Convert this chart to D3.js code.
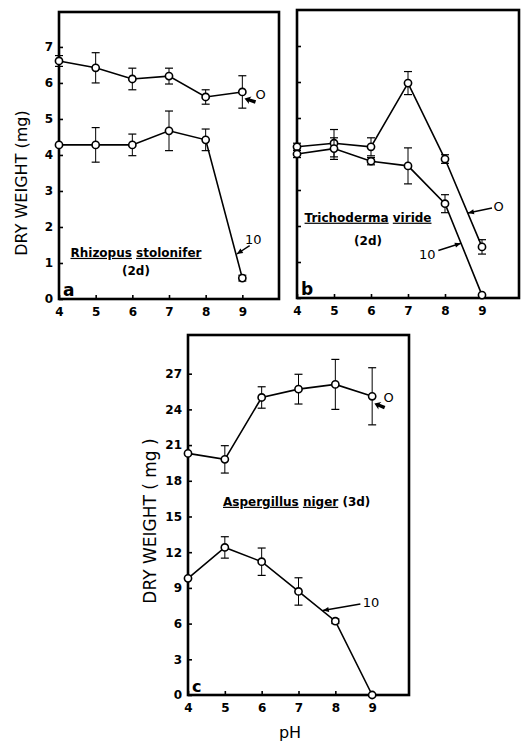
<!DOCTYPE html>
<html>
<head>
<meta charset="utf-8">
<script src="https://cdn.jsdelivr.net/npm/d3@7"></script>
<style>
  body { margin: 0; background: #fff; }
  svg { display: block; }
</style>
</head>
<body>
<script>
// pH values shared by all three panels
const pH = [4, 5, 6, 7, 8, 9];

// (a) Rhizopus stolonifer, 2d
const rhizopus0 = [6.61, 6.42, 6.11, 6.19, 5.61, 5.75];
const rhizopus0Err = [0.15, 0.42, 0.3, 0.22, 0.2, 0.45];
const rhizopus10 = [4.28, 4.28, 4.28, 4.67, 4.42, 0.58];
const rhizopus10Err = [0, 0.48, 0.3, 0.55, 0.3, 0.08];

// (b) Trichoderma viride, 2d
const tricho0 = [4.2, 4.3, 4.2, 5.97, 3.86, 1.42];
const tricho0Err = [0.1, 0.38, 0.25, 0.32, 0.12, 0.2];
const tricho10 = [4.0, 4.15, 3.8, 3.67, 2.62, 0.08];
const tricho10Err = [0.1, 0.3, 0.1, 0.5, 0.25, 0];

// (c) Aspergillus niger, 3d
const asper0 = [20.3, 19.8, 25.0, 25.7, 26.1, 25.1];
const asper0Err = [0, 1.15, 0.9, 1.25, 2.1, 2.4];
const asper10 = [9.8, 12.4, 11.2, 8.7, 6.2, 0];
const asper10Err = [0, 0.9, 1.15, 1.15, 0.2, 0];

const yTicksAB = [0, 1, 2, 3, 4, 5, 6, 7];
const yTicksC = [0, 3, 6, 9, 12, 15, 18, 21, 24, 27];

const width = 521, height = 741;
const svg = d3.select("body").append("svg")
    .attr("width", width)
    .attr("height", height)
    .style("background", "#fff");

const tickFont = "'DejaVu Sans', sans-serif";

function rows(vals, errs) {
    return pH.map((p, i) => ({ x: p, y: vals[i], e: errs[i] }));
}

// fat filled arrow, tip at (tx, ty), tail at (sx, sy)
function fatArrow(g, sx, sy, tx, ty) {
    const ang = Math.atan2(ty - sy, tx - sx) * 180 / Math.PI;
    const len = Math.hypot(tx - sx, ty - sy);
    g.append("path")
        .attr("transform", `translate(${tx},${ty}) rotate(${ang})`)
        .attr("d", `M0,0 L-6,-4 L-5,-1.6 L${-len},-1.8 L${-len},1.8 L-5,1.6 L-6,4 Z`)
        .attr("fill", "#000");
}

function thinArrow(g, sx, sy, tx, ty) {
    g.append("line")
        .attr("x1", sx).attr("y1", sy).attr("x2", tx).attr("y2", ty)
        .attr("stroke", "#000").attr("stroke-width", 1.4);
    const ang = Math.atan2(ty - sy, tx - sx) * 180 / Math.PI;
    g.append("path")
        .attr("transform", `translate(${tx},${ty}) rotate(${ang})`)
        .attr("d", "M0,0 L-6,-2.6 L-6,2.6 Z")
        .attr("fill", "#000");
}

function drawPanel(p) {
    const x = d3.scaleLinear().domain([4, 10]).range([p.left, p.right]);
    const y = d3.scaleLinear().domain(p.yDomain).range([p.bottom, p.top]);
    const g = svg.append("g");

    // x axis, ticks point inward
    const xa = g.append("g")
        .attr("transform", `translate(0,${p.bottom})`)
        .call(d3.axisBottom(x).tickValues(pH).tickFormat(d3.format("d"))
            .tickSizeInner(-4).tickSizeOuter(0).tickPadding(8));
    xa.select(".domain").remove();
    xa.selectAll("line").attr("stroke-width", 1.6);
    xa.selectAll("text")
        .attr("font-family", tickFont)
        .attr("font-weight", "bold")
        .attr("font-size", 12);

    const ya = g.append("g")
        .attr("transform", `translate(${p.left},0)`)
        .call(d3.axisLeft(y).tickValues(p.yTicks).tickSizeInner(-4).tickSizeOuter(0).tickPadding(6)
            .tickFormat(p.yLabels ? d3.format("d") : () => ""));
    ya.select(".domain").remove();
    ya.selectAll("line").attr("stroke-width", 1.6);
    ya.selectAll("text")
        .attr("font-family", tickFont)
        .attr("font-weight", "bold")
        .attr("font-size", 12);

    // frame
    g.append("rect")
        .attr("x", p.left).attr("y", p.top)
        .attr("width", p.right - p.left).attr("height", p.bottom - p.top)
        .attr("fill", "none").attr("stroke", "#000").attr("stroke-width", 2.6);

    const line = d3.line().x(d => x(d.x)).y(d => y(d.y));

    p.series.forEach(s => {
        const data = rows(s.vals, s.errs);
        g.append("path").datum(data)
            .attr("d", line)
            .attr("fill", "none").attr("stroke", "#000").attr("stroke-width", 1.6);

        const eb = g.selectAll(null).data(data.filter(d => d.e > 0)).enter().append("g");
        eb.append("line")
            .attr("x1", d => x(d.x)).attr("x2", d => x(d.x))
            .attr("y1", d => y(d.y - d.e)).attr("y2", d => y(d.y + d.e))
            .attr("stroke", "#000").attr("stroke-width", 1);
        [-1, 1].forEach(sgn => {
            eb.append("line")
                .attr("x1", d => x(d.x) - 4).attr("x2", d => x(d.x) + 4)
                .attr("y1", d => y(d.y + sgn * d.e)).attr("y2", d => y(d.y + sgn * d.e))
                .attr("stroke", "#000").attr("stroke-width", 1.2);
        });

        g.selectAll(null).data(data).enter().append("circle")
            .attr("cx", d => x(d.x)).attr("cy", d => y(d.y))
            .attr("r", 3.6)
            .attr("fill", "#fff").attr("stroke", "#000").attr("stroke-width", 1.6);
    });

    // species label with underlined words
    const t = g.append("text")
        .attr("x", x(p.nameAt[0])).attr("y", y(p.nameAt[1]))
        .attr("text-anchor", "middle")
        .attr("font-family", tickFont)
        .attr("font-weight", "bold")
        .attr("font-size", p.nameSize);
    p.name.forEach((w, i) => {
        if (i > 0) t.append("tspan").text(" ");
        t.append("tspan").text(w.text)
            .attr("text-decoration", w.u ? "underline" : null);
    });
    if (p.sub) {
        g.append("text")
            .attr("x", x(p.subAt[0])).attr("y", y(p.subAt[1]))
            .attr("text-anchor", "middle")
            .attr("font-family", tickFont)
            .attr("font-weight", "bold")
            .attr("font-size", p.nameSize)
            .text(p.sub);
    }

    // panel letter
    g.append("text")
        .attr("x", p.left + 4).attr("y", p.bottom - 3)
        .attr("font-family", tickFont)
        .attr("font-weight", "bold")
        .attr("font-size", p.letterSize)
        .text(p.letter);

    // concentration labels
    p.notes.forEach(n => {
        if (n.fat) fatArrow(g, x(n.from[0]), y(n.from[1]), x(n.to[0]), y(n.to[1]));
        else thinArrow(g, x(n.from[0]), y(n.from[1]), x(n.to[0]), y(n.to[1]));
        g.append("text")
            .attr("x", x(n.at[0])).attr("y", y(n.at[1]))
            .attr("text-anchor", "middle")
            .attr("dominant-baseline", "central")
            .attr("font-family", tickFont)
            .attr("font-size", 13)
            .text(n.text);
    });

    if (p.yTitle) {
        g.append("text")
            .attr("transform", `translate(${p.yTitle.x},${p.yTitle.y}) rotate(-90)`)
            .attr("text-anchor", "middle")
            .attr("dominant-baseline", "central")
            .attr("font-family", tickFont)
            .attr("font-size", p.yTitle.size)
            .text(p.yTitle.text);
    }
    if (p.xTitle) {
        g.append("text")
            .attr("x", p.xTitle.x).attr("y", p.xTitle.y)
            .attr("text-anchor", "middle")
            .attr("font-family", tickFont)
            .attr("font-size", 16)
            .text(p.xTitle.text);
    }
}

drawPanel({
    left: 59, right: 279, top: 12, bottom: 299,
    yDomain: [0, 7.97], yTicks: yTicksAB, yLabels: true,
    series: [
        { vals: rhizopus0, errs: rhizopus0Err },
        { vals: rhizopus10, errs: rhizopus10Err }
    ],
    name: [{ text: "Rhizopus", u: true }, { text: "stolonifer", u: true }],
    nameAt: [6.1, 1.17], nameSize: 12,
    sub: "(2d)", subAt: [6.1, 0.67],
    letter: "a", letterSize: 17,
    notes: [
        { text: "O", at: [9.5, 5.67], from: [9.36, 5.47], to: [9.06, 5.57], fat: true },
        { text: "10", at: [9.3, 1.65], from: [9.2, 1.48], to: [8.85, 1.25] }
    ],
    yTitle: { text: "DRY WEIGHT (mg)", x: 21, y: 183, size: 16 }
});

drawPanel({
    left: 297, right: 519, top: 10, bottom: 298,
    yDomain: [0, 8], yTicks: yTicksAB, yLabels: false,
    series: [
        { vals: tricho0, errs: tricho0Err },
        { vals: tricho10, errs: tricho10Err }
    ],
    name: [{ text: "Trichoderma", u: true }, { text: "viride", u: true }],
    nameAt: [5.92, 2.12], nameSize: 12,
    sub: "(2d)", subAt: [5.92, 1.47],
    letter: "b", letterSize: 17,
    notes: [
        { text: "O", at: [9.45, 2.53], from: [9.27, 2.5], to: [8.62, 2.36] },
        { text: "10", at: [7.52, 1.2], from: [7.82, 1.32], to: [8.43, 1.52] }
    ]
});

drawPanel({
    left: 188, right: 409, top: 335, bottom: 695,
    yDomain: [0, 30.25], yTicks: yTicksC, yLabels: true,
    series: [
        { vals: asper0, errs: asper0Err },
        { vals: asper10, errs: asper10Err }
    ],
    name: [{ text: "Aspergillus", u: true }, { text: "niger", u: true }, { text: "(3d)", u: false }],
    nameAt: [6.95, 15.9], nameSize: 12,
    letter: "c", letterSize: 16,
    notes: [
        { text: "O", at: [9.45, 24.96], from: [9.34, 24.15], to: [9.06, 24.5], fat: true },
        { text: "10", at: [8.97, 7.75], from: [8.68, 7.65], to: [7.66, 7.1] }
    ],
    yTitle: { text: "DRY WEIGHT ( mg )", x: 150, y: 521, size: 17 },
    xTitle: { text: "pH", x: 290, y: 738 }
});
</script>
</body>
</html>
